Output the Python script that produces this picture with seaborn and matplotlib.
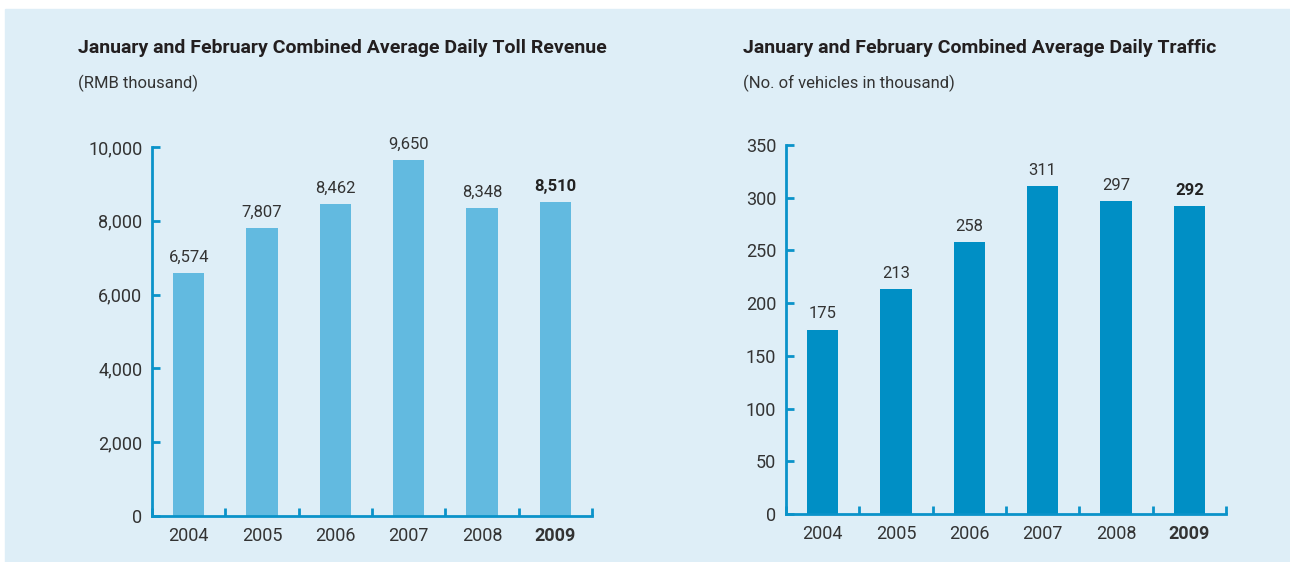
import matplotlib
matplotlib.use('Agg')
import matplotlib.pyplot as plt
import matplotlib.patches as mpatches
import seaborn as sns
import numpy as np

# Data
years = ['2004', '2005', '2006', '2007', '2008', '2009']
toll_revenue = [6574, 7807, 8462, 9650, 8348, 8510]
daily_traffic = [175, 213, 258, 311, 297, 292]

revenue_ticks = [0, 2000, 4000, 6000, 8000, 10000]
traffic_ticks = [0, 50, 100, 150, 200, 250, 300, 350]

sns.set_style('white')
plt.rcParams['font.family'] = ['Liberation Sans Narrow', 'Roboto', 'DejaVu Sans']

bg = '#deeef7'
axis_col = '#0a93c9'
text_col = '#333333'

fig = plt.figure(figsize=(12.9, 5.62), dpi=100)
fig.patch.set_facecolor('white')
# light blue panel behind everything
panel = mpatches.Rectangle((5 / 1290, 0), 1, 1 - 9 / 562,
                           transform=fig.transFigure, color=bg, zorder=-10)
fig.add_artist(panel)

ax1 = fig.add_axes([152 / 1290, 1 - 516 / 562, 440 / 1290, 369 / 562])
ax2 = fig.add_axes([786 / 1290, 1 - 514 / 562, 440 / 1290, 369 / 562])


def draw(ax, values, ticks, color, fmt, title, subtitle, title_x):
    sns.barplot(x=years, y=values, color=color, width=0.43, saturation=1,
                linewidth=0, edgecolor='none', ax=ax)
    ax.set_facecolor('none')
    ax.set_xlim(-0.5, 5.5)
    ax.set_ylim(0, ticks[-1])
    ax.set_yticks(ticks)
    ax.set_yticklabels([f'{t:,}' for t in ticks], fontsize=13, color=text_col)
    ax.set_xticks(range(len(years)))
    ax.set_xticklabels(years, fontsize=13, color=text_col)
    ax.get_xticklabels()[-1].set_fontweight('bold')
    ax.set_xticks(np.arange(-0.5, 6, 1), minor=True)
    ax.tick_params(axis='x', which='major', bottom=True, length=0, pad=8)
    ax.tick_params(axis='x', which='minor', bottom=True, direction='in',
                   length=6, width=2, color=axis_col)
    ax.tick_params(axis='y', which='major', left=True, direction='in',
                   length=6, width=2, color=axis_col, pad=7)
    for s in ['top', 'right']:
        ax.spines[s].set_visible(False)
    for s in ['left', 'bottom']:
        ax.spines[s].set_color(axis_col)
        ax.spines[s].set_linewidth(2)
    ax.set_xlabel('')
    ax.set_ylabel('')
    for i, v in enumerate(values):
        bold = i == len(values) - 1
        ax.annotate(fmt(v), (i, v), xytext=(0, 6), textcoords='offset points',
                    ha='center', va='bottom', fontsize=12,
                    fontweight='bold' if bold else 'normal',
                    color='#222222' if bold else text_col)
    fig.text(title_x / 1290, 1 - 48 / 562, title, fontsize=14, fontweight='bold',
             color='#231f20', va='center')
    fig.text(title_x / 1290, 1 - 83 / 562, subtitle, fontsize=12,
             color=text_col, va='center')


draw(ax1, toll_revenue, revenue_ticks, '#62bae0', lambda v: f'{v:,}',
     'January and February Combined Average Daily Toll Revenue', '(RMB thousand)', 78)
draw(ax2, daily_traffic, traffic_ticks, '#008fc5', lambda v: f'{v}',
     'January and February Combined Average Daily Traffic', '(No. of vehicles in thousand)', 743)

fig.savefig('out.png', dpi=100, facecolor=fig.get_facecolor())
